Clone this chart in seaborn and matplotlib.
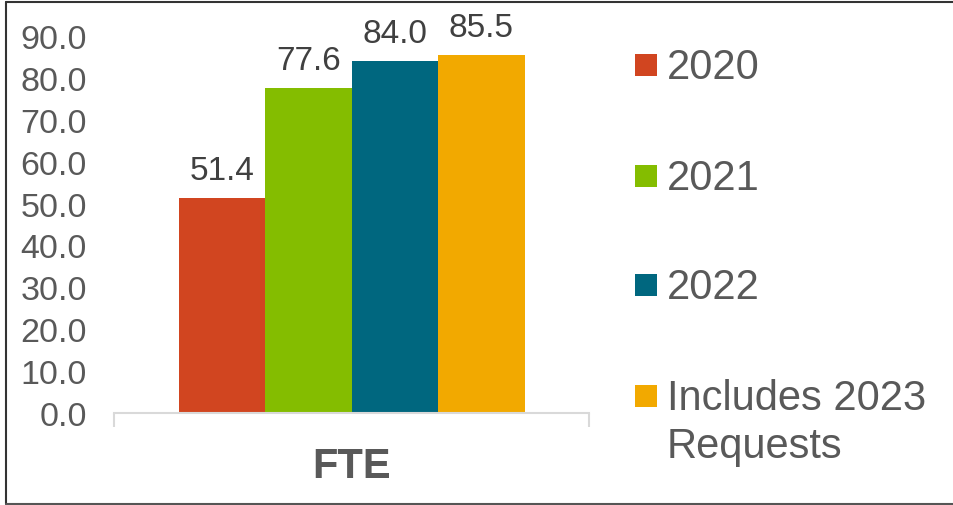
import matplotlib
matplotlib.use("Agg")
import matplotlib.pyplot as plt
import seaborn as sns
import pandas as pd
from matplotlib.patches import Rectangle
from matplotlib.lines import Line2D

# ---- data ----
categories = ["FTE"]
series = ["2020", "2021", "2022", "Includes 2023\nRequests"]
values = [51.4, 77.6, 84.0, 85.5]
colors = ["#D14520", "#84BD00", "#00677F", "#F2A900"]
yticks = [0, 10, 20, 30, 40, 50, 60, 70, 80, 90]

df = pd.DataFrame({"cat": categories * len(series), "series": series, "value": values})

sns.set_style("white")
plt.rcParams["font.family"] = ["Liberation Sans", "DejaVu Sans"]

W, H = 954, 506
fig = plt.figure(figsize=(W / 100, H / 100), dpi=100)
x0, x1, y0, y1 = 114, 589, 414, 37
ax = fig.add_axes([x0 / W, 1 - y0 / H, (x1 - x0) / W, (y0 - y1) / H])

sns.barplot(data=df, x="cat", y="value", hue="series", hue_order=series,
            palette=colors, saturation=1, width=346 / 475, legend=False,
            linewidth=0, edgecolor="none", ax=ax, errorbar=None)

ax.set_xlim(-0.5, 0.5)
ax.set_ylim(0, 90)
ax.set_yticks(yticks)
ax.set_yticklabels([f"{v:.1f}" for v in yticks])
ax.set_xlabel("")
ax.set_ylabel("")

for s in ["top", "right", "left"]:
    ax.spines[s].set_visible(False)
ax.spines["bottom"].set_color("#D9D9D9")
ax.spines["bottom"].set_linewidth(1.5)

ax.tick_params(axis="y", length=0, pad=19.4, labelsize=24.5, labelcolor="#595959")
ax.tick_params(axis="x", which="major", bottom=True, length=0, pad=24, labelsize=30, labelcolor="#595959")
for lab in ax.get_xticklabels():
    lab.set_fontweight("bold")
ax.set_xticks([-0.5, 0.5], minor=True)
ax.tick_params(axis="x", which="minor", bottom=True, length=10, width=1.5, color="#D9D9D9", direction="out")

# data labels
for cont in ax.containers:
    for rect in cont:
        h = rect.get_height()
        ax.annotate(f"{h:.1f}", xy=(rect.get_x() + rect.get_width() / 2, h),
                    xytext=(0, 13.7), textcoords="offset points",
                    ha="center", va="baseline", fontsize=24, color="#404040",
                    annotation_clip=False)

# legend (manual to match layout)
baselines = [79, 190, 299, 410]
for lab, col, bl in zip(series, colors, baselines):
    top = bl - 24
    fig.add_artist(Rectangle((635 / W, 1 - (top + 22) / H), 22 / W, 22 / H,
                             transform=fig.transFigure, color=col, lw=0))
    fig.text(667 / W, 1 - bl / H, lab, fontsize=30, color="#595959",
             ha="left", va="top", linespacing=1.07,
             transform=fig.transFigure) if False else None
    t = fig.text(667 / W, 1 - bl / H, lab.split("\n")[0], fontsize=30, color="#595959",
                 ha="left", va="baseline")
    if "\n" in lab:
        fig.text(667 / W, 1 - (bl + 48) / H, lab.split("\n")[1], fontsize=30,
                 color="#595959", ha="left", va="baseline")

# border
bc = "#333333"
fig.add_artist(Line2D([6.5 / W, 6.5 / W], [1 - 2.5 / H, 1 - 504.5 / H], transform=fig.transFigure, color=bc, lw=1.5))
fig.add_artist(Line2D([6.5 / W, 1], [1 - 2.5 / H, 1 - 2.5 / H], transform=fig.transFigure, color=bc, lw=1.5))
fig.add_artist(Line2D([6.5 / W, 1], [1 - 504.5 / H, 1 - 504.5 / H], transform=fig.transFigure, color="#555555", lw=1.5))

fig.savefig("out.png", dpi=100)
